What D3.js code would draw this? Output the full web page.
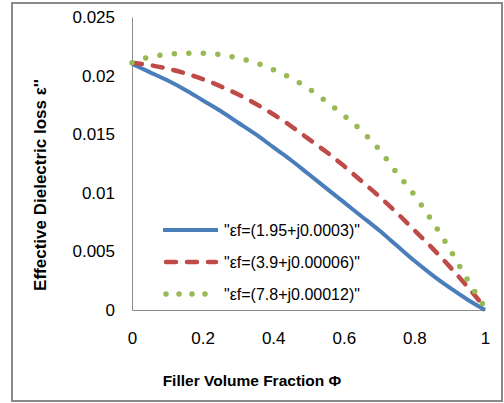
<!DOCTYPE html>
<html><head><meta charset="utf-8">
<script src="https://cdn.jsdelivr.net/npm/d3@7"></script>
<style>body{margin:0;background:#fff}svg{display:block}</style>
</head><body>
<script>
const phi = [0,0.05,0.1,0.15,0.2,0.25,0.3,0.35,0.4,0.45,0.5,0.55,0.6,0.65,0.7,0.75,0.8,0.85,0.9,0.95,1.0];
const lossBlue  = [0.0210,0.0203,0.0196,0.0188,0.0179,0.0170,0.0160,0.0150,0.0139,0.0128,0.0116,0.0104,0.0092,0.0080,0.0068,0.0055,0.0042,0.0030,0.0019,0.0009,0.0000];
const lossRed   = [0.0211,0.0209,0.0206,0.0202,0.0197,0.0191,0.0184,0.0176,0.0167,0.0157,0.0146,0.0135,0.0123,0.0110,0.0097,0.0083,0.0068,0.0053,0.0037,0.0020,0.0002];
const lossGreen = [0.0211,0.0216,0.0218,0.0219,0.0219,0.0218,0.0215,0.0211,0.0205,0.0198,0.0189,0.0178,0.0166,0.0153,0.0137,0.0117,0.0098,0.0076,0.0052,0.0026,0.0002];
const seriesNames = ['"εf=(1.95+j0.0003)"','"εf=(3.9+j0.00006)"','"εf=(7.8+j0.00012)"'];
const xTicks = [0,0.2,0.4,0.6,0.8,1];
const yTicks = [0,0.005,0.01,0.015,0.02,0.025];
const xTitle = "Filler Volume Fraction Φ";
const yTitle = "Effective Dielectric loss ε''";

const W=504,H=403;
const svg=d3.select("body").append("svg").attr("width",W).attr("height",H);
const font="'Liberation Sans',Arial,sans-serif";

svg.append("rect").attr("x",12).attr("y",3).attr("width",490).attr("height",398)
  .attr("fill","#fff").attr("stroke","#8a8a8a").attr("stroke-width",2);

const x=d3.scaleLinear().domain([0,1]).range([132,485]);
const y=d3.scaleLinear().domain([0,0.025]).range([310,17]);

const xAxis=svg.append("g").attr("transform","translate(0,310)")
  .call(d3.axisBottom(x).tickValues(xTicks).tickSize(0).tickFormat(d=>String(d)));
const yAxis=svg.append("g").attr("transform","translate(132,0)")
  .call(d3.axisLeft(y).tickValues(yTicks).tickSize(0).tickPadding(17).tickFormat(d=>String(d)));
[xAxis,yAxis].forEach(g=>{
  g.select(".domain").attr("stroke","#8c8c8c").attr("stroke-width",1);
  g.selectAll("text").attr("font-family",font).attr("font-size",17).attr("fill","#000");
});
xAxis.selectAll("text").attr("dy","0.35em").attr("y",28);

const styles=[
  {data:lossBlue,color:"#4a7ebb",dash:null,w:4,cap:"butt"},
  {data:lossRed,color:"#be4b48",dash:"10,11",w:4.5,cap:"round"},
  {data:lossGreen,color:"#98b954",dash:"0,14.5",w:5.5,cap:"round"}
];
const line=d3.line().x((d,i)=>x(phi[i])).y(d=>y(d)).curve(d3.curveMonotoneX);
styles.forEach(s=>{
  svg.append("path").datum(s.data).attr("d",line).attr("fill","none")
    .attr("stroke",s.color).attr("stroke-width",s.w).attr("stroke-linecap",s.cap)
    .attr("stroke-dasharray",s.dash);
});

const legY=[230,262,294];
styles.forEach((s,i)=>{
  svg.append("line").attr("x1",s.cap==="round"?166:163).attr("x2",s.cap==="round"?216:218)
    .attr("y1",legY[i]).attr("y2",legY[i])
    .attr("stroke",s.color).attr("stroke-width",s.w).attr("stroke-linecap",s.cap)
    .attr("stroke-dasharray",s.dash==="0,14.5"?"0,13":s.dash);
  svg.append("text").attr("x",224).attr("y",legY[i]).attr("dy","0.35em")
    .attr("font-family",font).attr("font-size",16).text(seriesNames[i]);
});

svg.append("text").attr("x",252).attr("y",381).attr("dy","0.35em").attr("text-anchor","middle")
  .attr("font-family",font).attr("font-size",15.5).attr("font-weight","bold").text(xTitle);
svg.append("text").attr("transform","translate(40,185) rotate(-90)").attr("dy","0.35em")
  .attr("text-anchor","middle").attr("font-family",font).attr("font-size",17)
  .attr("font-weight","bold").text(yTitle);
</script>
</body></html>
